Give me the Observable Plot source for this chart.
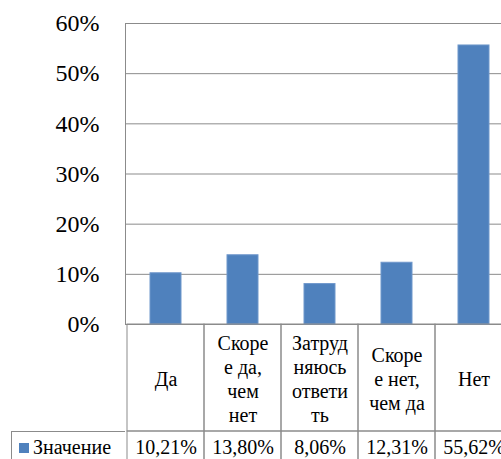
<!DOCTYPE html>
<html><head><meta charset="utf-8">
<script src="https://cdn.jsdelivr.net/npm/d3@7"></script>
<script src="https://cdn.jsdelivr.net/npm/@observablehq/plot@0.6"></script>
<style>
html,body{margin:0;padding:0;background:#fff;overflow:hidden;width:501px;height:459px}
#wrap{position:relative;width:520px;height:459px}
#wrap svg{display:block;position:absolute;left:0;background:transparent;overflow:visible}
#legend{position:absolute;left:11px;top:431px;width:114px;height:32px;box-sizing:border-box;border-left:1px solid #8b8b8b;border-top:1px solid #8b8b8b;font-size:20px;color:#000;display:flex;align-items:center;white-space:nowrap}
#legend .sw{display:inline-block;width:10px;height:10px;background:#4f81bd;margin-left:7px;margin-right:4px}
</style></head>
<body><div id="wrap"><div id="legend" style="font-family:'Liberation Serif'"><span class="sw"></span><span id="legtext" style="font-family:'Liberation Serif'"></span></div></div>
<script>
const categories = ["Да", "Скорее да, чем нет", "Затрудняюсь ответить", "Скорее нет, чем да", "Нет"];
const categoryLines = [["Да"], ["Скоре", "е да,", "чем", "нет"], ["Затруд", "няюсь", "ответи", "ть"], ["Скоре", "е нет,", "чем да"], ["Нет"]];
const values = [0.1021, 0.1380, 0.0806, 0.1231, 0.5562];
const valueLabels = ["10,21%", "13,80%", "8,06%", "12,31%", "55,62%"];
const yTicks = [0, 0.1, 0.2, 0.3, 0.4, 0.5, 0.6];
const seriesName = "Значение";

const data = categories.map((c, i) => ({category: c, value: values[i], label: valueLabels[i], lines: categoryLines[i].join("\n")}));
const gray = "#8b8b8b";
const blue = "#4f81bd";
const W = 520, ML = 125, MR = 7;
const xOpts = {type: "band", domain: categories, padding: 0, axis: null};

const chart = Plot.plot({
  width: W, height: 325, marginLeft: ML, marginRight: MR, marginTop: 23, marginBottom: 1,
  style: {color: "#000", background: "transparent", overflow: "visible"},
  x: xOpts,
  y: {domain: [0, 0.6], ticks: yTicks},
  marks: [
    Plot.ruleY(yTicks, {stroke: gray, strokeWidth: 1}),
    Plot.frame({stroke: gray}),
    Plot.barY(data, {x: "category", y: "value", fill: blue, stroke: "#6f97cb", strokeWidth: 1, insetLeft: 23, insetRight: 23}),
    Plot.axisY(yTicks, {tickSize: 0, tickPadding: 26, fontSize: 24, fill: "#000", label: null, tickFormat: d => Math.round(d * 100) + "%"})
  ]
});
chart.style.top = "0px";

const header = Plot.plot({
  width: W, height: 109, marginLeft: ML, marginRight: MR, marginTop: 1, marginBottom: 1,
  style: {color: "#000", background: "transparent", overflow: "visible"},
  x: xOpts,
  y: {type: "band", domain: ["header"], padding: 0, axis: null},
  marks: [
    Plot.cell(data, {x: "category", y: () => "header", fill: "none", stroke: gray}),
    Plot.text(data, {x: "category", y: () => "header", text: "lines", fontSize: 20, lineHeight: 1.2, fill: "#000", lineAnchor: "middle"})
  ]
});
header.style.top = "323px";

const vals = Plot.plot({
  width: W, height: 34, marginLeft: ML, marginRight: MR, marginTop: 1, marginBottom: 1,
  style: {color: "#000", background: "transparent", overflow: "visible"},
  x: xOpts,
  y: {type: "band", domain: [seriesName], padding: 0, axis: null},
  marks: [
    Plot.cell(data, {x: "category", y: () => seriesName, fill: "none", stroke: gray}),
    Plot.text(data, {x: "category", y: () => seriesName, text: "label", fontSize: 20, fill: "#000"})
  ]
});
vals.style.top = "430px";

const wrap = document.getElementById("wrap");
wrap.prepend(chart, header, vals);
document.getElementById("legtext").textContent = seriesName;
for (const el of document.querySelectorAll("svg, svg g, svg text, svg tspan, #legend, #legend span")) {
  el.style.setProperty("font-family", "'Liberation Serif'", "important");
}
</script>
</body></html>
